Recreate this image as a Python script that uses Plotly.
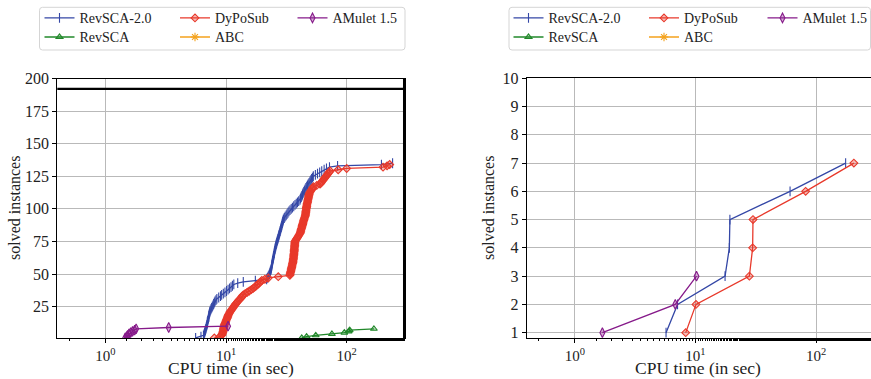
import plotly.graph_objects as go

# ---------------- data (sorted CPU times in seconds of solved instances) ----------------
left_revsca2 = [5.6, 6.2, 6.5,
                6.6, 6.65, 6.7, 6.75, 6.8, 6.85, 6.9,
                6.95, 7.0, 7.0, 7.05, 7.1, 7.15, 7.2, 7.2, 7.25, 7.3, 7.35, 7.4,
                7.5, 7.6, 7.7, 7.8, 7.9, 8.0, 8.1, 8.25, 8.4,
                8.7, 9.0, 9.2, 9.5,
                9.8, 10.1, 10.4, 10.7, 11.0, 11.3, 11.6,
                12.5, 13.9, 17.5, 21.7,
                22.0, 22.3, 22.6, 22.9, 23.1, 23.3, 23.5,
                23.7, 23.8, 23.9, 24.0, 24.1, 24.2, 24.3, 24.5, 24.6, 24.7, 24.8, 25.0,
                25.1, 25.2, 25.3, 25.5, 25.6, 25.8, 25.9, 26.1, 26.3, 26.5, 26.7,
                26.9, 27.1, 27.3, 27.5, 27.7, 27.9, 28.1, 28.3, 28.5, 28.7, 28.9, 29.1,
                29.3, 29.5, 29.7, 29.9,
                30.4, 30.9, 31.5, 32.0, 32.6, 33.2, 33.9,
                34.7, 35.5, 36.4, 37.3, 38.2, 39.1, 40.0, 41.0,
                41.5, 42.0, 42.5, 43.0, 43.5, 44.1, 44.6, 45.2,
                45.9, 46.6, 47.3, 48.0, 48.8, 49.6, 50.4, 51.2, 52.0, 52.9,
                55.0, 57.3, 59.7, 62.1,
                65.0, 68.0, 72.0, 84.0,
                194.0, 240.0]
left_dyposub = [8.0, 8.9, 9.2, 9.3, 9.4, 9.45, 9.5, 9.55, 9.6, 9.65, 9.7, 9.8,
                9.9, 10.0, 10.1, 10.2, 10.3, 10.4, 10.5, 10.65, 10.8,
                11.0, 11.2, 11.4, 11.6, 11.8, 12.0, 12.3,
                12.5, 12.8, 13.1, 13.4, 13.6, 13.9,
                14.4, 15.0, 15.6, 16.2, 16.8,
                17.3, 17.8, 18.3, 18.8, 19.3, 19.8,
                21.0, 22.4, 27.1, 33.8,
                34.0, 34.2, 34.4, 34.6, 34.8, 35.0, 35.2, 35.4, 35.6, 35.8, 35.95, 36.1,
                36.2, 36.3, 36.4, 36.5, 36.6, 36.7, 36.75, 36.8, 36.9, 37.0, 37.05, 37.1,
                37.2, 37.3,
                37.8, 38.5, 39.1, 39.7, 40.3, 41.0,
                41.3, 41.6, 41.9, 42.2, 42.5, 42.8, 43.1, 43.4, 43.7, 44.0, 44.3, 44.7, 45.2,
                45.4, 45.6, 45.8, 45.9, 46.1, 46.2, 46.4, 46.6,
                46.8, 47.0, 47.3, 47.5, 47.8, 48.0, 48.3, 48.5, 48.8, 49.0,
                49.8, 50.6, 51.4, 52.2, 53.0,
                56.5, 60.1,
                61.3, 62.5, 63.7, 64.9, 66.1,
                67.4, 68.7, 70.0, 71.4, 72.8,
                85.0, 100.0,
                200.0, 216.0, 227.0]
left_amulet = [1.46, 1.50, 1.53, 1.57, 1.62, 1.68, 1.75, 1.80, 3.35, 10.4]
left_revsca = [42.4, 46.5, 55.4, 75.4, 95.6, 103.8, 105.9, 168.0]
left_abc = []

right_revsca2 = [5.7, 7.1, 17.6, 19.1, 19.3, 60.9, 176.0]
right_dyposub = [8.3, 10.1, 28.0, 29.8, 30.0, 82.0, 206.0]
right_amulet = [1.69, 6.8, 10.2]
right_revsca = []
right_abc = []

series_names = ["RevSCA-2.0", "DyPoSub", "AMulet 1.5", "RevSCA", "ABC"]
x_tick_values = [1, 10, 100]
x_tick_labels = ["10<sup>0</sup>", "10<sup>1</sup>", "10<sup>2</sup>"]
left_y_ticks = [25, 50, 75, 100, 125, 150, 175, 200]
right_y_ticks = [1, 2, 3, 4, 5, 6, 7, 8, 9, 10]
total_instances = 192
timeout = 300

# ---------------- styling ----------------
W, H = 871, 379
FONT = "Liberation Serif"
TXT = "#222222"
colors = {"RevSCA-2.0": "#3447a6", "DyPoSub": "#e8392b", "AMulet 1.5": "#861a8a",
          "RevSCA": "#21882a", "ABC": "#f4a21c"}
fills = {"RevSCA-2.0": "#3447a6", "DyPoSub": "rgba(232,57,43,0.35)",
         "AMulet 1.5": "rgba(134,26,138,0.35)", "RevSCA": "rgba(33,136,42,0.35)",
         "ABC": "#f4a21c"}
symbols = {"RevSCA-2.0": "line-ns-open", "DyPoSub": "diamond", "AMulet 1.5": "diamond-tall",
           "RevSCA": "triangle-up", "ABC": "asterisk-open"}
sizes = {"RevSCA-2.0": 7, "DyPoSub": 6, "AMulet 1.5": 7, "RevSCA": 6, "ABC": 7}

left_data = {"RevSCA-2.0": left_revsca2, "DyPoSub": left_dyposub, "AMulet 1.5": left_amulet,
             "RevSCA": left_revsca, "ABC": left_abc}
right_data = {"RevSCA-2.0": right_revsca2, "DyPoSub": right_dyposub, "AMulet 1.5": right_amulet,
              "RevSCA": right_revsca, "ABC": right_abc}


def px_x(p):
    return p / W


def px_y(p):
    return 1 - p / H


fig = go.Figure()

# legend entry origins in pixels (matplotlib ncol=3, column-major)
R1, R2 = 18.3, 37.4
left_slots = {"RevSCA-2.0": (39.5, R1), "RevSCA": (39.5, R2),
              "DyPoSub": (175, R1), "ABC": (175, R2), "AMulet 1.5": (292.5, R1)}
right_slots = {"RevSCA-2.0": (508.5, R1), "RevSCA": (508.5, R2),
               "DyPoSub": (644, R1), "ABC": (644, R2), "AMulet 1.5": (762.5, R1)}

legend_layouts = {}
li = 0
for data, slots, xa, ya in [(left_data, left_slots, "x", "y"),
                            (right_data, right_slots, "x2", "y2")]:
    for name in series_names:
        li += 1
        lname = "legend" if li == 1 else f"legend{li}"
        t = data[name]
        n = list(range(1, len(t) + 1))
        fig.add_trace(go.Scatter(
            x=t if t else [None], y=n if n else [None], name=name, mode="lines+markers",
            xaxis=xa, yaxis=ya, legend=lname, showlegend=True,
            line=dict(color=colors[name], width=1.3),
            marker=dict(symbol=symbols[name], size=sizes[name], color=fills[name],
                        line=dict(color=colors[name], width=1.1)),
            cliponaxis=True, hoverinfo="skip"))
        sx, sy = slots[name]
        legend_layouts[lname] = dict(
            visible=True,
            x=px_x(sx), y=px_y(sy), xanchor="left", yanchor="middle",
            bgcolor="rgba(0,0,0,0)", borderwidth=0, itemwidth=30,
            font=dict(family=FONT, size=14, color=TXT), orientation="v")

axis_common = dict(showline=True, linecolor="black", linewidth=1, mirror=True,
                   ticks="outside", ticklen=4, tickcolor="black", tickwidth=1,
                   showgrid=True, gridcolor="#b9b9b9", gridwidth=1, zeroline=False,
                   tickfont=dict(family=FONT, size=16, color=TXT))
xticks = dict(type="log", tickvals=x_tick_values, ticktext=x_tick_labels,
              minor=dict(ticks="outside", ticklen=2, tickcolor="black", showgrid=False))
x_axis_style = dict(axis_common, tickfont=dict(family=FONT, size=15, color=TXT), ticklen=3.5)

fig.update_layout(
    width=W, height=H, margin=dict(l=0, r=0, t=0, b=0, autoexpand=False),
    paper_bgcolor="white", plot_bgcolor="white", showlegend=True,
    font=dict(family=FONT, color=TXT),
    xaxis=dict(domain=[px_x(57.3), px_x(405)], range=[-0.398, 2.483], anchor="y",
               automargin=False, **xticks, **x_axis_style),
    yaxis=dict(domain=[px_y(338.3), px_y(78.5)], range=[0.7, 200], anchor="x",
               automargin=False, tickvals=left_y_ticks, **axis_common),
    xaxis2=dict(domain=[px_x(526.7), 1.0], range=[-0.4, 2.456], anchor="y2",
                automargin=False, **xticks, **x_axis_style),
    yaxis2=dict(domain=[px_y(338.3), px_y(78.3)], range=[0.8, 10], anchor="x2",
                automargin=False, tickvals=right_y_ticks, **axis_common),
    **legend_layouts,
)

# axis titles
for xc in [231, 698]:
    fig.add_annotation(text="CPU time (in sec)", xref="paper", yref="paper",
                       x=px_x(xc), y=px_y(368), xanchor="center", yanchor="middle",
                       showarrow=False, font=dict(family=FONT, size=17.5, color=TXT))
for xc in [14, 488]:
    fig.add_annotation(text="solved instances", xref="paper", yref="paper",
                       x=px_x(xc), y=px_y(208), xanchor="center", yanchor="middle",
                       textangle=-90, showarrow=False, font=dict(family=FONT, size=16, color=TXT))

# total number of instances and timeout on the left panel
fig.add_shape(type="line", xref="x domain", yref="y", x0=0, x1=1,
              y0=total_instances, y1=total_instances, line=dict(color="black", width=2.2))
fig.add_shape(type="line", xref="x", yref="y domain", x0=timeout, x1=timeout,
              y0=0, y1=1, line=dict(color="black", width=2.6))


# legend frames (rounded boxes)
def rounded_box(x0, y0, x1, y1, r=3):
    X, Y = px_x, px_y
    return (f"M{X(x0 + r)},{Y(y0)} L{X(x1 - r)},{Y(y0)} Q{X(x1)},{Y(y0)} {X(x1)},{Y(y0 + r)} "
            f"L{X(x1)},{Y(y1 - r)} Q{X(x1)},{Y(y1)} {X(x1 - r)},{Y(y1)} "
            f"L{X(x0 + r)},{Y(y1)} Q{X(x0)},{Y(y1)} {X(x0)},{Y(y1 - r)} "
            f"L{X(x0)},{Y(y0 + r)} Q{X(x0)},{Y(y0)} {X(x0 + r)},{Y(y0)} Z")


for bx in [(39.5, 7.3, 405, 50), (509, 7.3, 870.5, 50)]:
    fig.add_shape(type="path", xref="paper", yref="paper", path=rounded_box(*bx),
                  line=dict(color="#d5d5d5", width=1), fillcolor="white", layer="below")

fig.write_html("out.html", config={"displayModeBar": False},
               post_script="document.body.style.margin='0';document.body.style.overflow='hidden';")
